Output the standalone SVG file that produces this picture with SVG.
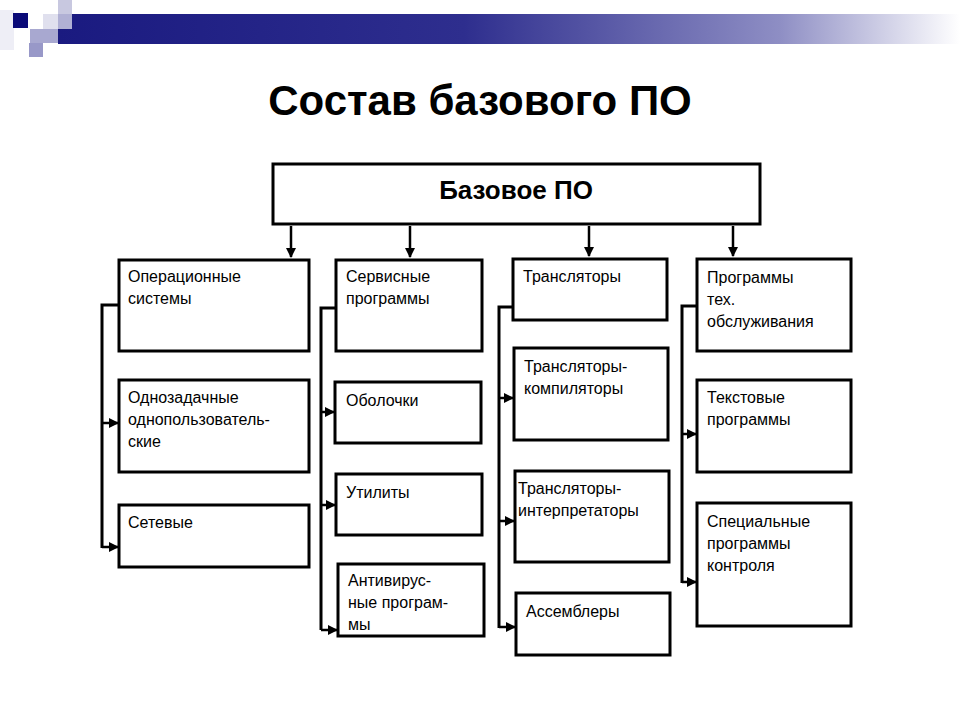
<svg xmlns="http://www.w3.org/2000/svg" width="960" height="720" viewBox="0 0 960 720">
<defs>
<linearGradient id="bar" x1="0" x2="1" y1="0" y2="0">
<stop offset="0" stop-color="#1a1a80"/><stop offset="0.45" stop-color="#2e2e8e"/><stop offset="0.8" stop-color="#8e8ec4"/><stop offset="1" stop-color="#ffffff"/>
</linearGradient>
<marker id="ah" markerWidth="10" markerHeight="10" refX="9" refY="5" orient="auto" markerUnits="userSpaceOnUse">
<path d="M0,0 L10,5 L0,10 z" fill="#000"/>
</marker>
<style>
.box{fill:#fff;stroke:#000;stroke-width:3}
.t{font-family:"Liberation Sans",Arial,sans-serif;font-size:16px;fill:#000}
.c{fill:none;stroke:#000;stroke-width:3}
.a{fill:none;stroke:#000;stroke-width:2.5;marker-end:url(#ah)}
</style>
</defs>
<rect width="960" height="720" fill="#fff"/>
<g id="decor">
<rect x="58" y="14" width="902" height="30" fill="url(#bar)"/>
<rect x="58" y="0" width="14" height="14" fill="#c8c8e0"/>
<rect x="43" y="14" width="15" height="15" fill="#e0e0ee"/>
<rect x="58" y="14" width="14" height="15" fill="#b0b0d4"/>
<rect x="30" y="29" width="28" height="14" fill="#a8a8d0"/>
<rect x="29" y="43" width="14" height="14" fill="#9898c8"/>
<rect x="0" y="10" width="14" height="40" fill="#eeeef6"/>
<rect x="13" y="13" width="15" height="15" fill="#0a0a78"/>
</g>
<text x="480" y="115" text-anchor="middle" font-family="Liberation Sans,Arial,sans-serif" font-weight="bold" font-size="42">Состав базового ПО</text>
<g id="root"><rect class="box" x="273" y="164" width="487" height="60"/><text x="516" y="199" text-anchor="middle" class="t" style="font-size:26px;font-weight:bold">Базовое ПО</text></g>
<g id="n1"><rect class="box" x="119" y="260" width="190" height="91"/><text class="t" x="128" y="282">Операционные</text><text class="t" x="128" y="304">системы</text></g>
<g id="n2"><rect class="box" x="119" y="380" width="190" height="92"/><text class="t" x="128" y="403">Однозадачные</text><text class="t" x="128" y="425">однопользователь-</text><text class="t" x="128" y="447">ские</text></g>
<g id="n3"><rect class="box" x="119" y="505" width="190" height="62"/><text class="t" x="128" y="528">Сетевые</text></g>
<g id="n4"><rect class="box" x="336" y="260" width="146" height="91"/><text class="t" x="346" y="282">Сервисные</text><text class="t" x="346" y="304">программы</text></g>
<g id="n5"><rect class="box" x="335" y="382" width="146" height="61"/><text class="t" x="346" y="406">Оболочки</text></g>
<g id="n6"><rect class="box" x="336" y="474" width="146" height="61"/><text class="t" x="346" y="498">Утилиты</text></g>
<g id="n7"><rect class="box" x="338" y="564" width="146" height="72"/><text class="t" x="348" y="586">Антивирус-</text><text class="t" x="348" y="608">ные програм-</text><text class="t" x="348" y="630">мы</text></g>
<g id="n8"><rect class="box" x="513" y="259" width="154" height="61"/><text class="t" x="523" y="282">Трансляторы</text></g>
<g id="n9"><rect class="box" x="514" y="348" width="154" height="92"/><text class="t" x="524" y="372">Трансляторы-</text><text class="t" x="524" y="394">компиляторы</text></g>
<g id="n10"><rect class="box" x="515" y="471" width="154" height="91"/><text class="t" x="518" y="494">Трансляторы-</text><text class="t" x="518" y="516">интерпретаторы</text></g>
<g id="n11"><rect class="box" x="516" y="593" width="154" height="62"/><text class="t" x="526" y="617">Ассемблеры</text></g>
<g id="n12"><rect class="box" x="697" y="259" width="154" height="92"/><text class="t" x="707" y="283">Программы</text><text class="t" x="707" y="305">тех.</text><text class="t" x="707" y="327">обслуживания</text></g>
<g id="n13"><rect class="box" x="697" y="380" width="154" height="92"/><text class="t" x="707" y="403">Текстовые</text><text class="t" x="707" y="425">программы</text></g>
<g id="n14"><rect class="box" x="697" y="503" width="154" height="123"/><text class="t" x="707" y="527">Специальные</text><text class="t" x="707" y="549">программы</text><text class="t" x="707" y="571">контроля</text></g>
<g id="connectors">
<path class="a" d="M291,226 V257"/>
<path class="a" d="M410,226 V257"/>
<path class="a" d="M589,226 V256"/>
<path class="a" d="M733,226 V256"/>
<path class="c" d="M119,305 H102 V548"/>
<path class="a" d="M102,423 H118"/>
<path class="a" d="M102,547 H118"/>
<path class="c" d="M336,308 H321 V630"/>
<path class="a" d="M321,412 H334"/>
<path class="a" d="M321,505 H335"/>
<path class="a" d="M321,630 H337"/>
<path class="c" d="M513,307 H499 V628"/>
<path class="a" d="M499,398 H513"/>
<path class="a" d="M499,521 H514"/>
<path class="a" d="M499,627 H515"/>
<path class="c" d="M697,306 H682 V583"/>
<path class="a" d="M682,434 H696"/>
<path class="a" d="M682,582 H696"/>
</g>
</svg>
